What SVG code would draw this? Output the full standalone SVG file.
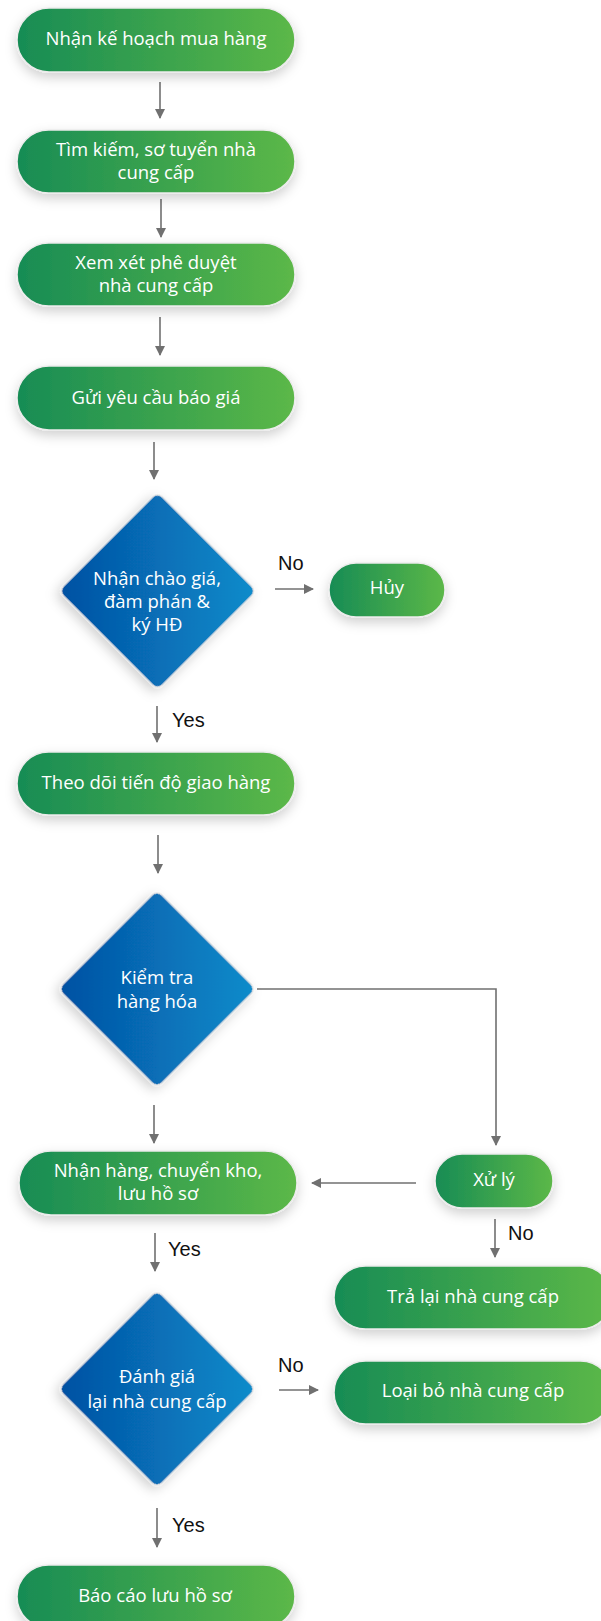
<svg xmlns="http://www.w3.org/2000/svg" width="601" height="1621" viewBox="0 0 601 1621">
<defs>
<linearGradient id="gG" x1="0" y1="0" x2="1" y2="0"><stop offset="0" stop-color="#178c54"/><stop offset="1" stop-color="#5cb848"/></linearGradient>
<linearGradient id="gB" x1="0" y1="1" x2="1" y2="0"><stop offset="0" stop-color="#0450a2"/><stop offset="1" stop-color="#0a8ccb"/></linearGradient>
<filter id="sh" x="-20%" y="-30%" width="140%" height="170%"><feDropShadow dx="0" dy="5" stdDeviation="6" flood-color="#000" flood-opacity="0.18"/></filter>
<marker id="ah" markerWidth="10" markerHeight="10" refX="9" refY="5" orient="auto" markerUnits="userSpaceOnUse"><path d="M0,0 L10,5 L0,10 Z" fill="#707070"/></marker>
<style>
.n{fill:url(#gG);stroke:#ececec;stroke-width:1.5;filter:url(#sh)}
.d{fill:url(#gB);stroke:#e6e6e6;stroke-width:1.5;filter:url(#sh)}
.t{font-family:"Open Sans","Liberation Sans",sans-serif;font-size:18.5px;font-weight:500;fill:#fff;text-anchor:middle}
.l{font-family:"Liberation Sans",Arial,sans-serif;font-size:20px;fill:#111}
.c{stroke:#707070;stroke-width:1.6;fill:none;marker-end:url(#ah)}
</style>
</defs>
<g id="connectors">
<line class="c" x1="160" y1="82" x2="160" y2="118"/>
<line class="c" x1="161" y1="199" x2="161" y2="237"/>
<line class="c" x1="160" y1="317" x2="160" y2="355"/>
<line class="c" x1="154" y1="442" x2="154" y2="479"/>
<line class="c" x1="275" y1="589" x2="313" y2="589"/>
<line class="c" x1="157" y1="706" x2="157" y2="742"/>
<line class="c" x1="158" y1="835" x2="158" y2="873"/>
<polyline class="c" points="257,989 496,989 496,1145"/>
<line class="c" x1="154" y1="1105" x2="154" y2="1143"/>
<line class="c" x1="416" y1="1183" x2="312" y2="1183"/>
<line class="c" x1="495" y1="1219" x2="495" y2="1257"/>
<line class="c" x1="155" y1="1233" x2="155" y2="1271"/>
<line class="c" x1="279" y1="1390" x2="318" y2="1390"/>
<line class="c" x1="157" y1="1508" x2="157" y2="1547"/>
<text class="l" x="278" y="570">No</text>
<text class="l" x="172" y="727">Yes</text>
<text class="l" x="508" y="1240">No</text>
<text class="l" x="168" y="1256">Yes</text>
<text class="l" x="278" y="1372">No</text>
<text class="l" x="172" y="1532">Yes</text>
</g>
<g id="n1"><rect class="n" x="17" y="8" width="278" height="64" rx="32"/><text class="t" x="156" y="45">Nhận kế hoạch mua hàng</text></g>
<g id="n2"><rect class="n" x="17" y="130" width="278" height="63" rx="31.5"/><text class="t" x="156" y="156">Tìm kiếm, sơ tuyển nhà</text><text class="t" x="156" y="179">cung cấp</text></g>
<g id="n3"><rect class="n" x="17" y="243" width="278" height="63" rx="31.5"/><text class="t" x="156" y="269">Xem xét phê duyệt</text><text class="t" x="156" y="292">nhà cung cấp</text></g>
<g id="n4"><rect class="n" x="17" y="366" width="278" height="64" rx="32"/><text class="t" x="156" y="404">Gửi yêu cầu báo giá</text></g>
<g id="d1"><rect class="d" x="-70" y="-70" width="140" height="140" rx="7" transform="translate(157.5,591) rotate(45)"/><text class="t" x="157" y="585">Nhận chào giá,</text><text class="t" x="157" y="608">đàm phán &amp;</text><text class="t" x="157" y="631">ký HĐ</text></g>
<g id="huy"><rect class="n" x="329" y="563" width="116" height="54" rx="27"/><text class="t" x="387" y="594">Hủy</text></g>
<g id="n5"><rect class="n" x="17" y="752" width="278" height="63" rx="31.5"/><text class="t" x="156" y="789">Theo dõi tiến độ giao hàng</text></g>
<g id="d2"><rect class="d" x="-70" y="-70" width="140" height="140" rx="7" transform="translate(157,989) rotate(45)"/><text class="t" x="157" y="984">Kiểm tra</text><text class="t" x="157" y="1008">hàng hóa</text></g>
<g id="xuly"><rect class="n" x="435" y="1154" width="118" height="54" rx="27"/><text class="t" x="494" y="1186">Xử lý</text></g>
<g id="n6"><rect class="n" x="19" y="1151" width="278" height="64" rx="32"/><text class="t" x="158" y="1177">Nhận hàng, chuyển kho,</text><text class="t" x="158" y="1200">lưu hồ sơ</text></g>
<g id="tralai"><rect class="n" x="334" y="1266" width="278" height="63" rx="31.5"/><text class="t" x="473" y="1303">Trả lại nhà cung cấp</text></g>
<g id="d3"><rect class="d" x="-70" y="-70" width="140" height="140" rx="7" transform="translate(157,1389) rotate(45)"/><text class="t" x="157" y="1383">Đánh giá</text><text class="t" x="157" y="1408">lại nhà cung cấp</text></g>
<g id="loaibo"><rect class="n" x="334" y="1361" width="278" height="63" rx="31.5"/><text class="t" x="473" y="1397">Loại bỏ nhà cung cấp</text></g>
<g id="n7"><rect class="n" x="17" y="1565" width="278" height="63" rx="31.5"/><text class="t" x="155" y="1602">Báo cáo lưu hồ sơ</text></g>
</svg>
